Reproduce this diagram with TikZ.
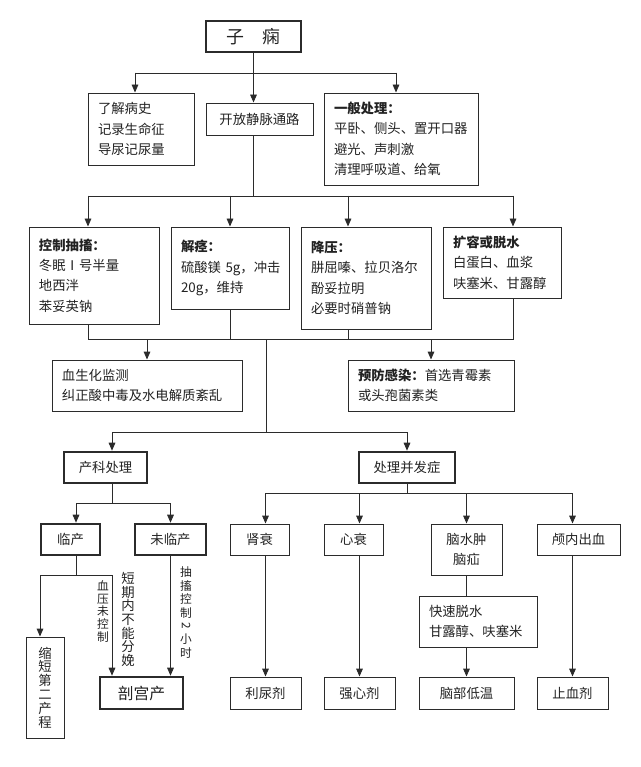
\documentclass[tikz,border=0pt]{standalone}
\usepackage{fontspec}
\setmainfont{Noto Sans CJK SC}
\usepackage{graphicx}
\usetikzlibrary{arrows.meta}
\definecolor{zxline}{HTML}{2B2B2B}
\definecolor{zxtext}{HTML}{222222}
\newcommand{\zxfont}{\fontsize{11.4}{17.4}\selectfont}

\begin{document}
\begin{tikzpicture}[x=0.03cm, y=-0.03cm,
    box/.style={draw=zxline, line width=0.8pt, inner sep=0pt, text=zxtext, align=center, font=\zxfont},
    thickbox/.style={box, line width=2.2pt},
    lbox/.style={box, align=left, inner xsep=0.3cm},
    link/.style={draw=zxline, line width=0.8pt, line cap=rect},
    arr/.style={link, -{Triangle[length=0.24cm, width=0.2cm]}},
    vlabel/.style={inner sep=0pt, text=zxtext, align=center}]
            \useasboundingbox (0,0) rectangle (640,767);

            % head
            \node[thickbox, minimum width=2.85cm, minimum height=0.93cm, font=\fontsize{15.3}{18}\selectfont] (zixian) at (253.5,36.5) {子　痫};

            % first row
            \node[lbox, text width=2.58cm, minimum height=2.16cm] (bingshi) at (141,129) {了解病史\\记录生命征\\导尿记尿量};
            \node[box, minimum width=3.21cm, minimum height=0.96cm] (jingmai) at (259.5,119) {开放静脉通路};
            \node[lbox, text width=4.02cm, minimum height=2.76cm] (yiban) at (401,139) {\textbf{一般处理：}\\平卧、侧头、置开口器\\避光、声刺激\\清理呼吸道、给氧};

            % drugs
            \node[lbox, text width=3.3cm, minimum height=2.91cm] (kongzhi) at (94,275.5) {\textbf{控制抽搐：}\\冬眠Ⅰ号半量\\地西泮\\苯妥英钠};
            \node[lbox, text width=2.94cm, minimum height=2.46cm] (jiejing) at (230,268) {\textbf{解痉：}\\硫酸镁~5g，冲击\\20g，维持\\[0.3cm]};
            \node[lbox, text width=3.3cm, minimum height=3.06cm] (jiangya) at (366,278) {\textbf{降压：}\\肼屈嗪、拉贝洛尔\\酚妥拉明\\必要时硝普钠};
            \node[lbox, text width=2.94cm, minimum height=2.13cm] (kuorong) at (502,262.5) {\textbf{扩容或脱水}\\白蛋白、血浆\\呋塞米、甘露醇};

            % monitoring
            \node[lbox, text width=5.1cm, minimum height=1.53cm] (jiance) at (147,385.5) {血生化监测\\纠正酸中毒及水电解质紊乱};
            \node[lbox, text width=4.38cm, minimum height=1.53cm] (yufang) at (431,385.5) {\textbf{预防感染：}首选青霉素\\或头孢菌素类};

            % two branches
            \node[thickbox, minimum width=2.49cm, minimum height=0.93cm] (chanke) at (105.5,467.5) {产科处理};
            \node[thickbox, minimum width=2.88cm, minimum height=0.93cm] (bingfa) at (407,467.5) {处理并发症};

            % obstetric side
            \node[thickbox, minimum width=1.77cm, minimum height=0.93cm] (linchan) at (70.5,539.5) {临产};
            \node[thickbox, minimum width=2.13cm, minimum height=0.93cm] (weilin) at (170.5,539.5) {未临产};
            \node[box, minimum width=1.14cm, minimum height=3.03cm, font=\fontsize{11.4}{11.8}\selectfont] (suoduan) at (45,687.5) {缩\\短\\第\\二\\产\\程};
            \node[thickbox, minimum width=2.49cm, minimum height=0.96cm, font=\fontsize{13.5}{15}\selectfont] (pougong) at (141.5,693) {剖宫产};
            \node[vlabel, font=\fontsize{10}{10.8}\selectfont] (xueya) at (103,611.5) {血\\压\\未\\控\\制};
            \node[vlabel, font=\fontsize{11.4}{11.6}\selectfont] (duanqi) at (128,619.5) {短\\期\\内\\不\\能\\分\\娩};
            \node[vlabel, font=\fontsize{10}{11.5}\selectfont] (chouchu) at (186,612.5) {抽\\搐\\控\\制\\\rotatebox[origin=c]{-90}{2}\\小\\时};

            % complications
            \node[box, minimum width=1.77cm, minimum height=0.93cm] (shenshuai) at (259.5,539.5) {肾衰};
            \node[box, minimum width=1.77cm, minimum height=0.93cm] (xinshuai) at (353.5,539.5) {心衰};
            \node[box, minimum width=2.13cm, minimum height=1.53cm] (naoshui) at (466.5,549.5) {脑水肿\\脑疝};
            \node[box, minimum width=2.49cm, minimum height=0.93cm] (lunei) at (578.5,539.5) {颅内出血};
            \node[lbox, text width=2.94cm, minimum height=1.53cm] (kuaisu) at (478,621.5) {快速脱水\\甘露醇、呋塞米};
            \node[box, minimum width=2.13cm, minimum height=0.96cm] (liniao) at (265.5,693) {利尿剂};
            \node[box, minimum width=2.13cm, minimum height=0.96cm] (qiangxin) at (359.5,693) {强心剂};
            \node[box, minimum width=2.85cm, minimum height=0.96cm] (naodi) at (466.5,693) {脑部低温};
            \node[box, minimum width=2.13cm, minimum height=0.96cm] (zhixue) at (572.5,693) {止血剂};

            % junctions
            \coordinate (k0) at (135,73);
            \coordinate (k5) at (396,73);
            \coordinate (t2) at (253.5,196);
            \coordinate (k1) at (88,196);
            \coordinate (k3) at (348,196);
            \coordinate (k4) at (513,196);
            \coordinate (t3) at (266,339);
            \coordinate (t4) at (266,432);
            \coordinate (t5) at (112,503);
            \coordinate (t6) at (76,575);
            \coordinate (t8) at (40,575);
            \coordinate (t7) at (407,493);

            % upper connectors
            \draw[arr] (zixian.south) -- (zixian.south |- jingmai.north);
            \draw[link] (k0) -- (k5);
            \draw[arr] (k0) -- (k0 |- bingshi.north);
            \draw[arr] (k5) -- (k5 |- yiban.north);
            \draw[link] (t2 |- jingmai.south) -- (t2);
            \draw[link] (k1) -- (k4);
            \draw[arr] (k1) -- (k1 |- kongzhi.north);
            \draw[arr] (jiejing.north |- t2) -- (jiejing.north);
            \draw[arr] (k3) -- (k3 |- jiangya.north);
            \draw[arr] (k4) -- (k4 |- kuorong.north);
            \draw[link] (k1 |- kongzhi.south) -- (k1 |- t3) -- (k4 |- t3) -- (k4 |- kuorong.south);
            \draw[link] (jiejing.south) -- (jiejing.south |- t3);
            \draw[link] (k3 |- jiangya.south) -- (k3 |- t3);
            \draw[arr] (jiance.north |- t3) -- (jiance.north);
            \draw[arr] (yufang.north |- t3) -- (yufang.north);
            \draw[link] (t3) -- (t4);

            % lower connectors
            \draw[link] (t5 |- t4) -- (bingfa.north |- t4);
            \draw[arr] (t5 |- t4) -- (t5 |- chanke.north);
            \draw[arr] (bingfa.north |- t4) -- (bingfa.north);
            \draw[link] (t5 |- chanke.south) -- (t5);
            \draw[link] (t6 |- t5) -- (weilin.north |- t5);
            \draw[arr] (t6 |- t5) -- (t6 |- linchan.north);
            \draw[arr] (weilin.north |- t5) -- (weilin.north);
            \draw[link] (t6 |- linchan.south) -- (t6);
            \draw[link] (t8) -- (t5 |- t6);
            \draw[arr] (t8) -- (t8 |- suoduan.north);
            \draw[arr] (t5 |- t6) -- (t5 |- pougong.north);
            \draw[arr] (weilin.south) -- (weilin.south |- pougong.north);
            \draw[link] (bingfa.south) -- (t7);
            \draw[link] (liniao.north |- t7) -- (zhixue.north |- t7);
            \draw[arr] (liniao.north |- t7) -- (liniao.north |- shenshuai.north);
            \draw[arr] (qiangxin.north |- t7) -- (qiangxin.north |- xinshuai.north);
            \draw[arr] (naoshui.north |- t7) -- (naoshui.north);
            \draw[arr] (zhixue.north |- t7) -- (zhixue.north |- lunei.north);
            \draw[arr] (liniao.north |- shenshuai.south) -- (liniao.north);
            \draw[arr] (qiangxin.north |- xinshuai.south) -- (qiangxin.north);
            \draw[link] (naoshui.south) -- (naoshui.south |- kuaisu.north);
            \draw[arr] (naodi.north |- kuaisu.south) -- (naodi.north);
            \draw[arr] (zhixue.north |- lunei.south) -- (zhixue.north);
        \end{tikzpicture}
\end{document}
